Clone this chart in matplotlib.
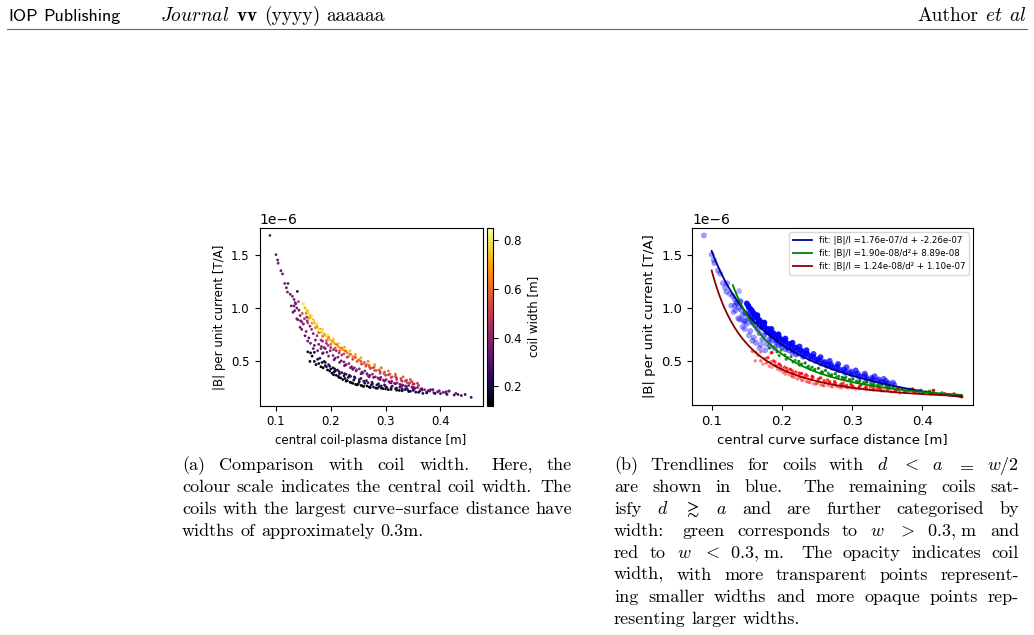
import numpy as np
import matplotlib
matplotlib.use('Agg')
import matplotlib.pyplot as plt
from matplotlib.lines import Line2D
from matplotlib.transforms import IdentityTransform

# (distance d [m], |B|/I [1e-6 T/A], coil width w [m])
# blue: d < a = w/2
blue_pts = [
    (0.089, 1.68, 0.33), (0.100, 1.50, 0.34), (0.103, 1.45, 0.33), (0.104, 1.42, 0.35),
    (0.109, 1.35, 0.34), (0.112, 1.32, 0.33), (0.116, 1.23, 0.35), (0.122, 1.23, 0.34),
    (0.119, 1.19, 0.33), (0.121, 1.15, 0.35), (0.126, 1.13, 0.34), (0.130, 1.11, 0.36),
    (0.133, 1.08, 0.33), (0.135, 1.05, 0.34), (0.136, 1.04, 0.36), (0.133, 1.02, 0.35),
    (0.138, 1.00, 0.34), (0.134, 0.975, 0.33), (0.142, 0.98, 0.36), (0.140, 0.89, 0.35),
    (0.139, 1.156, 0.26), (0.131, 0.96, 0.33), (0.128, 1.02, 0.34),
    (0.138, 0.90, 0.36), (0.144, 0.93, 0.38), (0.145, 0.88, 0.34), (0.156, 0.915, 0.40),
    (0.144, 0.82, 0.33), (0.150, 0.85, 0.37), (0.162, 0.83, 0.39), (0.155, 0.78, 0.35),
    (0.168, 0.76, 0.38), (0.160, 0.72, 0.32), (0.172, 0.70, 0.36), (0.178, 0.66, 0.34),
    (0.183, 0.64, 0.40), (0.170, 0.65, 0.31), (0.190, 0.62, 0.37), (0.165, 0.80, 0.42),
    (0.175, 0.74, 0.44), (0.185, 0.69, 0.41), (0.195, 0.65, 0.45), (0.205, 0.61, 0.42),
    (0.215, 0.58, 0.46), (0.141, 1.06, 0.50), (0.148, 0.95, 0.55), (0.152, 0.90, 0.48),
    (0.158, 0.86, 0.52), (0.147, 0.80, 0.33), (0.153, 0.74, 0.31), (0.158, 0.69, 0.34),
    (0.163, 0.67, 0.36), (0.168, 0.62, 0.32), (0.176, 0.60, 0.35), (0.182, 0.70, 0.43),
    (0.192, 0.67, 0.44), (0.200, 0.63, 0.46), (0.210, 0.60, 0.44), (0.220, 0.56, 0.47),
    (0.230, 0.54, 0.45), (0.157, 0.88, 0.41), (0.147, 0.87, 0.39),
    (0.155, 0.95, 0.62), (0.160, 0.905, 0.66), (0.166, 0.86, 0.60), (0.172, 0.815, 0.64),
    (0.178, 0.77, 0.58), (0.185, 0.735, 0.62), (0.192, 0.695, 0.57), (0.200, 0.66, 0.60),
    (0.208, 0.625, 0.55), (0.216, 0.60, 0.58), (0.224, 0.57, 0.54), (0.232, 0.545, 0.56),
    (0.240, 0.52, 0.52), (0.248, 0.50, 0.55), (0.256, 0.475, 0.51), (0.264, 0.455, 0.53),
    (0.272, 0.435, 0.50), (0.280, 0.415, 0.52), (0.290, 0.39, 0.49), (0.300, 0.37, 0.51),
    (0.310, 0.35, 0.48), (0.320, 0.33, 0.50), (0.330, 0.315, 0.47), (0.340, 0.30, 0.49),
    (0.350, 0.285, 0.46),
    (0.157, 0.975, 0.70), (0.162, 0.93, 0.74), (0.168, 0.885, 0.68), (0.174, 0.845, 0.72),
    (0.181, 0.80, 0.66), (0.188, 0.76, 0.70), (0.196, 0.725, 0.64), (0.204, 0.69, 0.69),
    (0.212, 0.655, 0.62), (0.220, 0.625, 0.66), (0.228, 0.595, 0.60), (0.236, 0.565, 0.64),
    (0.244, 0.54, 0.58), (0.252, 0.515, 0.62), (0.261, 0.49, 0.57), (0.270, 0.465, 0.60),
    (0.279, 0.445, 0.55), (0.288, 0.42, 0.58), (0.298, 0.40, 0.53), (0.308, 0.38, 0.56),
    (0.318, 0.36, 0.52), (0.328, 0.34, 0.54), (0.338, 0.325, 0.50), (0.348, 0.31, 0.52),
    (0.358, 0.295, 0.49),
    (0.150, 1.04, 0.78), (0.152, 1.02, 0.85), (0.153, 1.00, 0.72), (0.155, 0.99, 0.80),
    (0.158, 0.96, 0.75), (0.160, 0.945, 0.82), (0.163, 0.92, 0.70), (0.165, 0.905, 0.78),
    (0.167, 0.875, 0.84), (0.170, 0.865, 0.74), (0.172, 0.84, 0.80), (0.175, 0.825, 0.68),
    (0.178, 0.80, 0.76), (0.180, 0.79, 0.83), (0.183, 0.77, 0.72), (0.186, 0.765, 0.79),
    (0.189, 0.745, 0.70), (0.192, 0.735, 0.77), (0.195, 0.71, 0.66), (0.198, 0.705, 0.74),
    (0.202, 0.69, 0.68), (0.206, 0.67, 0.72), (0.210, 0.66, 0.65), (0.214, 0.635, 0.70),
    (0.218, 0.625, 0.63), (0.222, 0.61, 0.68), (0.226, 0.60, 0.62), (0.230, 0.58, 0.66),
    (0.235, 0.57, 0.60), (0.240, 0.545, 0.64), (0.245, 0.535, 0.58), (0.250, 0.51, 0.62),
    (0.255, 0.50, 0.57), (0.260, 0.48, 0.60), (0.265, 0.47, 0.55), (0.270, 0.45, 0.58),
    (0.276, 0.44, 0.54), (0.283, 0.415, 0.56), (0.290, 0.405, 0.52), (0.297, 0.385, 0.55),
    (0.305, 0.375, 0.51), (0.312, 0.355, 0.53), (0.320, 0.345, 0.50), (0.328, 0.325, 0.52),
    (0.336, 0.315, 0.49), (0.344, 0.298, 0.51), (0.352, 0.29, 0.48), (0.360, 0.275, 0.47),
    (0.165, 0.93, 0.80), (0.175, 0.86, 0.82), (0.185, 0.80, 0.78), (0.195, 0.75, 0.80),
    (0.205, 0.71, 0.76), (0.215, 0.67, 0.78), (0.225, 0.635, 0.72), (0.235, 0.60, 0.74),
    (0.245, 0.565, 0.68), (0.255, 0.535, 0.70), (0.268, 0.50, 0.64), (0.280, 0.47, 0.66),
    (0.292, 0.44, 0.60), (0.305, 0.41, 0.62), (0.318, 0.38, 0.56), (0.332, 0.355, 0.58),
    (0.345, 0.33, 0.54),
]

# green: d >~ a, w > 0.3 m
green_pts = [
    (0.182, 0.62, 0.36), (0.188, 0.63, 0.33), (0.193, 0.585, 0.38), (0.199, 0.60, 0.35),
    (0.204, 0.555, 0.40), (0.208, 0.53, 0.34), (0.213, 0.54, 0.37), (0.219, 0.505, 0.32),
    (0.224, 0.495, 0.39), (0.228, 0.47, 0.35), (0.233, 0.48, 0.41), (0.238, 0.45, 0.33),
    (0.243, 0.44, 0.37), (0.247, 0.42, 0.36), (0.252, 0.43, 0.40), (0.257, 0.40, 0.34),
    (0.262, 0.41, 0.38), (0.266, 0.385, 0.32), (0.271, 0.37, 0.36), (0.276, 0.38, 0.41),
    (0.281, 0.355, 0.35), (0.286, 0.345, 0.39), (0.291, 0.35, 0.33), (0.296, 0.325, 0.37),
    (0.301, 0.33, 0.40), (0.306, 0.31, 0.34), (0.311, 0.315, 0.38), (0.316, 0.295, 0.36),
    (0.321, 0.30, 0.41), (0.326, 0.285, 0.33), (0.331, 0.28, 0.37), (0.336, 0.27, 0.35),
    (0.342, 0.275, 0.39), (0.348, 0.26, 0.34), (0.353, 0.25, 0.38), (0.358, 0.255, 0.36),
    (0.364, 0.24, 0.33), (0.371, 0.235, 0.37), (0.378, 0.228, 0.35), (0.386, 0.232, 0.34),
    (0.395, 0.215, 0.36), (0.405, 0.21, 0.33), (0.415, 0.222, 0.35), (0.428, 0.20, 0.34),
    (0.255, 0.385, 0.31), (0.270, 0.355, 0.33), (0.290, 0.33, 0.31), (0.310, 0.30, 0.32),
    (0.330, 0.27, 0.31), (0.350, 0.245, 0.32), (0.240, 0.425, 0.31), (0.225, 0.46, 0.31),
    (0.186, 0.58, 0.34), (0.196, 0.55, 0.36), (0.206, 0.515, 0.33), (0.216, 0.49, 0.37),
    (0.226, 0.465, 0.35), (0.236, 0.44, 0.34), (0.246, 0.41, 0.38), (0.258, 0.39, 0.33),
    (0.268, 0.365, 0.36), (0.278, 0.35, 0.34), (0.288, 0.335, 0.37), (0.298, 0.315, 0.33),
    (0.308, 0.30, 0.36), (0.318, 0.29, 0.35), (0.328, 0.275, 0.34), (0.338, 0.265, 0.36),
    (0.352, 0.255, 0.33), (0.366, 0.245, 0.35), (0.382, 0.235, 0.34), (0.398, 0.225, 0.33),
    (0.410, 0.215, 0.34),
]

# red: d >~ a, w < 0.3 m
red_pts = [
    (0.158, 0.59, 0.18), (0.163, 0.58, 0.15), (0.162, 0.50, 0.14), (0.170, 0.50, 0.16),
    (0.173, 0.47, 0.13), (0.178, 0.48, 0.17), (0.182, 0.45, 0.14), (0.186, 0.44, 0.12),
    (0.190, 0.46, 0.16), (0.194, 0.42, 0.13), (0.198, 0.41, 0.15), (0.202, 0.39, 0.14),
    (0.206, 0.40, 0.17), (0.210, 0.37, 0.13), (0.214, 0.36, 0.15), (0.218, 0.345, 0.12),
    (0.222, 0.33, 0.14), (0.226, 0.34, 0.16), (0.230, 0.32, 0.13), (0.235, 0.305, 0.15),
    (0.240, 0.295, 0.14), (0.245, 0.285, 0.12), (0.250, 0.29, 0.16), (0.255, 0.275, 0.13),
    (0.260, 0.265, 0.15), (0.266, 0.27, 0.14), (0.272, 0.255, 0.13), (0.278, 0.26, 0.16),
    (0.285, 0.248, 0.14), (0.292, 0.25, 0.15), (0.300, 0.242, 0.13), (0.310, 0.238, 0.16),
    (0.320, 0.23, 0.14), (0.330, 0.225, 0.15), (0.342, 0.218, 0.17), (0.355, 0.212, 0.16),
    (0.368, 0.20, 0.18),
    (0.205, 0.375, 0.13), (0.215, 0.35, 0.14), (0.228, 0.315, 0.13), (0.238, 0.30, 0.15),
    (0.248, 0.28, 0.13), (0.258, 0.27, 0.14), (0.270, 0.26, 0.13), (0.282, 0.25, 0.15),
    (0.295, 0.245, 0.13), (0.305, 0.235, 0.14), (0.325, 0.228, 0.13), (0.345, 0.22, 0.14),
    (0.360, 0.21, 0.15), (0.375, 0.205, 0.16), (0.390, 0.20, 0.17), (0.166, 0.55, 0.15),
    (0.170, 0.585, 0.17),
    (0.176, 0.52, 0.19), (0.184, 0.49, 0.17), (0.192, 0.45, 0.20), (0.200, 0.43, 0.18),
    (0.208, 0.41, 0.16), (0.216, 0.385, 0.19), (0.224, 0.365, 0.17), (0.232, 0.35, 0.20),
    (0.242, 0.325, 0.18), (0.252, 0.31, 0.16), (0.262, 0.295, 0.19), (0.274, 0.28, 0.17),
    (0.288, 0.265, 0.20), (0.302, 0.255, 0.18), (0.318, 0.245, 0.19), (0.335, 0.235, 0.20),
    (0.180, 0.53, 0.24), (0.188, 0.50, 0.22), (0.196, 0.47, 0.26), (0.204, 0.44, 0.21),
    (0.212, 0.42, 0.25), (0.220, 0.395, 0.23), (0.228, 0.38, 0.27), (0.236, 0.36, 0.22),
    (0.244, 0.345, 0.26), (0.252, 0.33, 0.24), (0.260, 0.315, 0.21), (0.268, 0.30, 0.27),
    (0.276, 0.29, 0.23), (0.284, 0.28, 0.25), (0.292, 0.27, 0.22), (0.300, 0.265, 0.26),
    (0.310, 0.255, 0.24), (0.320, 0.25, 0.27), (0.330, 0.242, 0.23), (0.340, 0.235, 0.25),
    (0.350, 0.228, 0.22), (0.362, 0.22, 0.26), (0.375, 0.213, 0.24), (0.388, 0.205, 0.27),
    (0.400, 0.198, 0.25), (0.412, 0.19, 0.28), (0.425, 0.185, 0.26), (0.438, 0.18, 0.27),
    (0.456, 0.163, 0.28), (0.185, 0.575, 0.25), (0.386, 0.235, 0.29), (0.416, 0.222, 0.28),
    (0.432, 0.19, 0.27),
    (0.190, 0.49, 0.21), (0.198, 0.455, 0.23), (0.207, 0.43, 0.20), (0.215, 0.405, 0.22),
    (0.225, 0.385, 0.24), (0.234, 0.37, 0.21), (0.243, 0.355, 0.23), (0.255, 0.34, 0.25),
    (0.265, 0.32, 0.22), (0.275, 0.305, 0.24), (0.287, 0.29, 0.21), (0.298, 0.28, 0.23),
    (0.312, 0.268, 0.25), (0.326, 0.258, 0.22), (0.338, 0.25, 0.24), (0.352, 0.24, 0.21),
    (0.366, 0.232, 0.23), (0.380, 0.222, 0.25), (0.395, 0.215, 0.22), (0.410, 0.205, 0.24),
    (0.445, 0.19, 0.25),
]

# fit coefficients from the legend
fit_blue = (1.76e-07, -2.26e-07)   # c/d + k
fit_green = (1.90e-08, 8.89e-08)   # c/d^2 + k
fit_red = (1.24e-08, 1.10e-07)     # c/d^2 + k

cap_a = [
    "(a) Comparison with coil width. Here, the",
    "colour scale indicates the central coil width. The",
    "coils with the largest curve\u2013surface distance have",
    "widths of approximately 0.3m.",
]
cap_b = [
    r"(b) Trendlines for coils with $d$ $<$ $a$ $=$ $w/2$",
    "are shown in blue. The remaining coils sat-",
    r"isfy $d$ $\gtrsim$ $a$ and are further categorised by",
    r"width: green corresponds to $w$ $>$ $0.3,\,\mathrm{m}$ and",
    r"red to $w$ $<$ $0.3,\,\mathrm{m}$. The opacity indicates coil",
    "width, with more transparent points represent-",
    "ing smaller widths and more opaque points rep-",
    "resenting larger widths.",
]


def unpack(pts):
    d, b, w = (np.array(v) for v in zip(*pts))
    return d, b * 1e-6, w


bd, bb, bw = unpack(blue_pts)
gd, gb, gw = unpack(green_pts)
rd, rb, rw = unpack(red_pts)

W, H = 1034, 635
fig = plt.figure(figsize=(W / 100, H / 100), dpi=100)
SERIF = ['cmr10', 'DejaVu Serif']
PT = 13
FS1 = 8.5   # left panel text
FS2 = 9.5   # right panel text


def put_words(line, x0, x1, y, justify=True, align='left', size=PT, family=SERIF):
    r = fig.canvas.get_renderer()
    words = line.split()
    arts = [fig.text(0, 0, w, transform=IdentityTransform(), fontsize=size,
                     family=family, math_fontfamily='cm', va='baseline') for w in words]
    widths = [a.get_window_extent(r).width for a in arts]
    weights = [1.5 if w[-1] in '.:' else 1.0 for w in words[:-1]]
    if justify and len(words) > 1:
        unit = (x1 - x0 - sum(widths)) / sum(weights)
    else:
        unit = size * 0.46
    total = sum(widths) + unit * sum(weights)
    x = x0 if align == 'left' else x1 - total
    for a, wd, g in zip(arts, widths, weights + [0]):
        a.set_position((x, H - y))
        x += wd + g * unit


# page header
put_words("IOP Publishing", 8, None, 21, justify=False, family='cmss10')
put_words(r"$\mathit{Journal}$ $\mathbf{vv}$ (yyyy) aaaaaa", 160, None, 21,
          justify=False, size=14)
put_words(r"Author $\mathit{et}$ $\mathit{al}$", None, 1026, 21, justify=False,
          align='right', size=14)
fig.add_artist(Line2D([7 / W, 1027 / W], [1 - 28.5 / H] * 2, color='#666666', lw=0.8))

# (a) colour = coil width
ax1 = fig.add_axes([259.5 / W, 1 - 405.7 / H, 223.2 / W, 177.7 / H])
cax = fig.add_axes([487.3 / W, 1 - 405.7 / H, 6 / W, 177.7 / H])
all_d = np.concatenate([rd, gd, bd])
all_b = np.concatenate([rb, gb, bb])
all_w = np.concatenate([rw, gw, bw])
sc = ax1.scatter(all_d, all_b, c=all_w, cmap='inferno', s=4, linewidths=0)
cb = fig.colorbar(sc, cax=cax)
cb.set_ticks([0.2, 0.4, 0.6, 0.8])
cb.set_label('coil width [m]', fontsize=FS1)
cb.ax.tick_params(labelsize=FS1)
ax1.set_xlabel('central coil-plasma distance [m]', fontsize=FS1)
ax1.set_ylabel('|B| per unit current [T/A]', fontsize=FS1)
ax1.set_xlim(0.07, 0.477)
ax1.tick_params(labelsize=FS1)

# (b) trendlines
ax2 = fig.add_axes([692 / W, 1 - 405 / H, 281 / W, 177 / H])
ax2.scatter(bd, bb, s=18, color='blue', alpha=np.clip(bw / bw.max(), 0.25, 1), linewidths=0)
ax2.scatter(gd, gb, s=5, color='green', alpha=np.clip(gw / gw.max(), 0.25, 1), linewidths=0)
ax2.scatter(rd, rb, s=6, color='red', alpha=np.clip(rw / rw.max(), 0.3, 1), linewidths=0)
xs = np.linspace(0.1, 0.456, 200)
xg = np.linspace(0.13, 0.456, 200)
ax2.plot(xs, fit_blue[0] / xs + fit_blue[1], color='darkblue', lw=1.3,
         label='fit: |B|/I =1.76e-07/d + -2.26e-07')
ax2.plot(xg, fit_green[0] / xg**2 + fit_green[1], color='green', lw=1.3,
         label='fit: |B|/I =1.90e-08/d\u00b2+ 8.89e-08')
ax2.plot(xs, fit_red[0] / xs**2 + fit_red[1], color='darkred', lw=1.3,
         label='fit: |B|/I = 1.24e-08/d\u00b2 + 1.10e-07')
ax2.legend(loc='upper right', fontsize=6.2, handlelength=2.2)
ax2.set_xlabel('central curve surface distance [m]', fontsize=FS2)
ax2.set_ylabel('|B| per unit current [T/A]', fontsize=FS2)
ax2.set_xlim(0.072, 0.472)
ax2.tick_params(labelsize=FS2)

for ax in (ax1, ax2):
    ax.set_ylim(0.085e-6, 1.75e-6)
    ax.set_xticks([0.1, 0.2, 0.3, 0.4])
    ax.set_yticks([0.5e-6, 1.0e-6, 1.5e-6])
    ax.yaxis.get_offset_text().set_fontsize(10)

# captions
for i, line in enumerate(cap_a):
    put_words(line, 182, 572, 470 + 22 * i, justify=i < len(cap_a) - 1)
for i, line in enumerate(cap_b):
    put_words(line, 614, 1019, 470 + 22 * i, justify=i < len(cap_b) - 1)

fig.savefig('out.png', dpi=100)
